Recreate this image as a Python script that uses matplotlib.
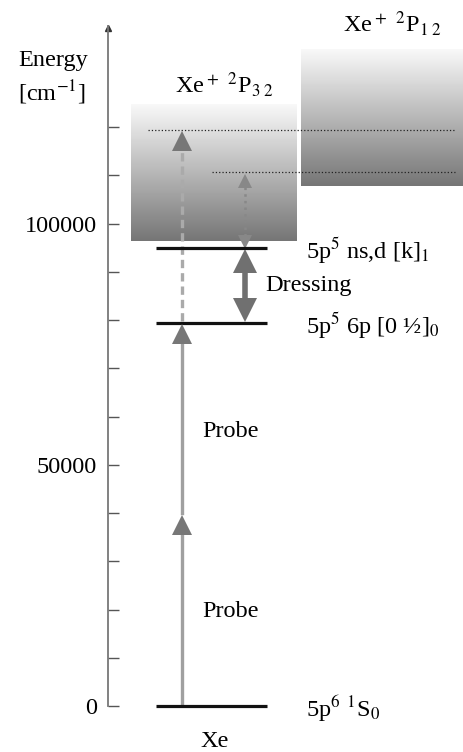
import numpy as np
import matplotlib.pyplot as plt

plt.rcParams['font.family'] = ['Liberation Serif', 'DejaVu Serif']
plt.rcParams['mathtext.fontset'] = 'stix'

# energies in cm^-1
level_E = [0, 79400, 94900]
level_labels = ['5p$^6$ $^1$S$_0$', '5p$^5$ 6p [0 ½]$_0$', '5p$^5$ ns,d [k]$_1$']
ion_bottom = [96400, 107800]
ion_top = [124600, 136000]
ion_labels = ['Xe$^+$ $^2$P$_{3\\ 2}$', 'Xe$^+$ $^2$P$_{1\\ 2}$']
final_E = [119400, 110700]       # dotted final-state lines
probe_E = 39600                  # one probe photon
tick_E = np.arange(0, 130000, 10000)
tick_labels = ['0' if t == 0 else str(t) if t % 50000 == 0 else '' for t in tick_E]

fig = plt.figure(figsize=(4.64, 7.52), dpi=100)
ax = fig.add_axes([0, 0, 1, 1])
ax.set_xlim(0, 464)
ax.set_ylim(-9530, 146320)

# energy axis
for s in ['top', 'right', 'bottom']:
    ax.spines[s].set_visible(False)
ax.spines['left'].set_position(('data', 108))
ax.spines['left'].set_bounds(0, 141000)
ax.spines['left'].set_color('#777777')
ax.spines['left'].set_linewidth(1.3)
ax.set_xticks([])
ax.set_yticks(tick_E)
ax.set_yticklabels(tick_labels)
ax.tick_params(axis='y', direction='in', length=8, width=1, color='#555555',
               pad=8, labelsize=17.5)
ax.plot(108, 140600, marker='^', color='#333333', ms=5, clip_on=False)
ax.text(18, 133700, 'Energy', fontsize=17.5, va='center')
ax.text(18, 127000, '[cm$^{-1}$]', fontsize=17.5, va='center')

# ionisation continua as grey gradients
grad = np.linspace(0, 1, 256).reshape(-1, 1)
box_x = [(131, 297), (301, 464)]
for (x0, x1), lo, hi in zip(box_x, ion_bottom, ion_top):
    ax.imshow(grad, cmap='gray', vmin=-0.9, vmax=1.05, extent=(x0, x1, lo, hi),
              aspect='auto', origin='lower', zorder=0)
ax.text(175, 128900, ion_labels[0], fontsize=17.5, va='center')
ax.text(343, 141500, ion_labels[1], fontsize=17.5, va='center')
ax.set_xlim(0, 464)
ax.set_ylim(-9530, 146320)

# dotted final states
ax.plot([148, 455], [final_E[0]] * 2, ':', color='#222222', lw=0.9)
ax.plot([212, 455], [final_E[1]] * 2, ':', color='#222222', lw=0.9)

# levels
for E, lab in zip(level_E, level_labels):
    ax.plot([156, 267], [E, E], color='#111111', lw=2.3, solid_capstyle='butt', zorder=3)
    ax.text(306, E - 500, lab, fontsize=17.5, va='center')
ax.text(215, -7300, 'Xe', fontsize=17.5, ha='center', va='center')

# probe arrows
ax.plot([182, 182], [700, probe_E - 3000], color='#a0a0a0', lw=2.4, zorder=2)
ax.plot(182, probe_E - 2000, marker='^', color='#777777', ms=14, mew=0, zorder=4)
ax.plot([182, 182], [probe_E + 500, level_E[1] - 3000], color='#a0a0a0', lw=2.4, zorder=2)
ax.plot(182, level_E[1] - 2200, marker='^', color='#777777', ms=14, mew=0, zorder=4)
ax.text(202, 56800, 'Probe', fontsize=17.5, va='center')
ax.text(202, 19500, 'Probe', fontsize=17.5, va='center')

# dashed ionising probe
ax.plot([182, 182], [level_E[1] + 400, final_E[0] - 3500], color='#aaaaaa', lw=2.4,
        dashes=(2.5, 1.5), zorder=2)
ax.plot(182, final_E[0] - 2200, marker='^', color='#777777', ms=14, mew=0, zorder=4)

# dotted double arrow
ax.plot([245, 245], [level_E[2] + 2500, final_E[1] - 2500], ':', color='#888888', lw=1.8)
ax.plot(245, final_E[1] - 1800, marker='^', color='#888888', ms=10, mew=0)
ax.plot(245, level_E[2] + 1300, marker='v', color='#888888', ms=10, mew=0)

# dressing double arrow
ax.plot([245, 245], [level_E[1] + 4000, level_E[2] - 4000], color='#707070', lw=4)
ax.plot(245, level_E[2] - 2700, marker='^', color='#707070', ms=17, mew=0)
ax.plot(245, level_E[1] + 2700, marker='v', color='#707070', ms=17, mew=0)
ax.text(265, 87200, 'Dressing', fontsize=17.5, va='center')

fig.savefig('out.png', dpi=100)
